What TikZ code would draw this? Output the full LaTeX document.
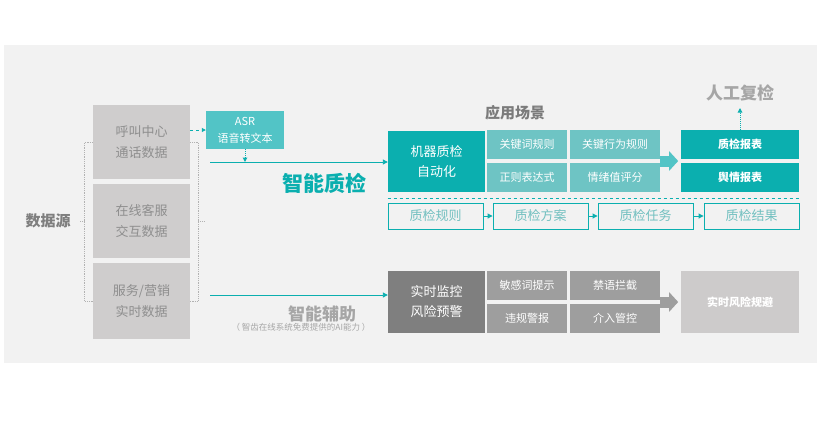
\documentclass[tikz,border=0pt]{standalone}
\usepackage{fontspec}
\setmainfont{Noto Sans CJK SC}
\usetikzlibrary{positioning, arrows.meta, calc}

\definecolor{bggray}{HTML}{F2F2F2}
\definecolor{qcteal}{HTML}{0BAFAF}
\definecolor{tealmid}{HTML}{6EC4C4}
\definecolor{asrteal}{HTML}{52C4C6}
\definecolor{tealtext}{HTML}{72C0C0}
\definecolor{srcgray}{HTML}{CFCDCD}
\definecolor{srctext}{HTML}{8E8E8E}
\definecolor{dkgray}{HTML}{7F7F7F}
\definecolor{mdgray}{HTML}{9E9E9E}
\definecolor{ltgray}{HTML}{CDCBCB}
\definecolor{titlegray}{HTML}{7B7B7B}
\definecolor{palegray}{HTML}{A6A6A6}

\begin{document}
\begin{tikzpicture}[
  x=1pt, y=-1pt,
  every node/.style={inner sep=0pt, align=center},
  srcbox/.style={fill=srcgray, text=srctext, minimum width=97pt, font=\fontsize{13}{21}\selectfont},
  bigbox/.style={minimum width=97pt, text=white, font=\fontsize{13}{20}\selectfont},
  smallbox/.style={minimum height=29pt, text=white, font=\fontsize{11}{13}\selectfont},
  reportbox/.style={fill=qcteal, minimum width=118pt, minimum height=29pt, text=white, font=\fontsize{11}{13}\selectfont\bfseries},
  procbox/.style={draw=qcteal, line width=0.9pt, minimum width=95pt, minimum height=26pt, text=tealtext, font=\fontsize{13}{15}\selectfont},
  flowarr/.style={draw=qcteal, line width=0.9pt, -{Triangle[length=5pt, width=5pt]}},
  dotarr/.style={draw=qcteal, densely dotted, line width=1pt, -{Triangle[length=4.5pt, width=4.5pt]}},
  fatarr/.style={line width=11pt, -{Triangle[length=9pt, width=19pt]}},
  bracket/.style={draw=gray!60, densely dotted, line width=0.8pt}
]

\fill[bggray] (4,45) rectangle (817,363);

% data sources
\node[srcbox, minimum height=74pt] (call) at (141.5,142) {呼叫中心\\通话数据};
\node[srcbox, minimum height=74pt] (chat) at (141.5,221) {在线客服\\交互数据};
\node[srcbox, minimum height=76pt] (sale) at (141.5,301) {服务/营销\\实时数据};

\draw[bracket] (call.west) -- ++(-8,0) |- (sale.west);
\draw[bracket] (chat.west) ++(-8,0) -- ++(-5,0) coordinate (srctick);
\draw[bracket] (call.east) -- ++(8,0) |- (sale.east);
\draw[bracket] (chat.east) ++(8,0) -- ++(7,0);
\node[left=9pt of srctick, text=dkgray, font=\fontsize{15}{17}\selectfont\bfseries] (src) {数据源};

\node[fill=asrteal, minimum width=78pt, minimum height=38pt, text=white, font=\fontsize{11}{17}\selectfont] (asr) at (245,130) {ASR\\语音转文本};

% upper branch
\node[bigbox, fill=qcteal, minimum height=61pt] (mqc) at (436.5,161.5) {机器质检\\自动化};
\node[smallbox, fill=tealmid, minimum width=80pt] (kw) at (527,144.5) {关键词规则};
\node[smallbox, fill=tealmid, minimum width=90pt] (act) at (615,144.5) {关键行为规则};
\node[smallbox, fill=tealmid, minimum width=80pt] (regex) at (527,177.5) {正则表达式};
\node[smallbox, fill=tealmid, minimum width=90pt] (emo) at (615,177.5) {情绪值评分};
\node[reportbox] (qcrep) at (740,144.5) {质检报表};
\node[reportbox] (oprep) at (740,177.5) {舆情报表};

\node[text=titlegray, font=\fontsize{15}{17}\selectfont\bfseries] (scene) at (515,113) {应用场景};
\node[text=palegray, font=\fontsize{17}{19}\selectfont\bfseries] (review) at (740,93) {人工复检};
\coordinate (revtip) at (740,108);

\coordinate (qline) at (210,162);
\draw[flowarr] (qline) -- (qline -| mqc.west);
\draw[draw=qcteal, dashed, line width=0.8pt, -{Triangle[length=4pt, width=4pt]}] (call.east |- asr.west) -- (asr.west);
\draw[dotarr] (asr.south) -- (asr.south |- qline);
\node[text=qcteal, font=\fontsize{21}{23}\selectfont\bfseries] (qctitle) at (324,183) {智能质检};

\coordinate (fa1) at ($(act.south east)!0.5!(emo.north east)$);
\draw[fatarr, asrteal] (fa1) -- ++(18,0);
\draw[dotarr] (qcrep.north) -- (revtip);

\node[procbox] (rule) at (435.5,216) {质检规则};
\node[procbox] (plan) at (540.5,216) {质检方案};
\node[procbox] (task) at (645.5,216) {质检任务};
\node[procbox] (result) at (751.5,216) {质检结果};
\draw[draw=qcteal, dashed, line width=0.9pt] ($(rule.north west)+(0,-4.5)$) -- ($(result.north east)+(0,-4.5)$);
\draw[flowarr] (rule) -- (plan);
\draw[flowarr] (plan) -- (task);
\draw[flowarr] (task) -- (result);

% lower branch
\node[bigbox, fill=dkgray, minimum height=62pt] (rt) at (436.5,302) {实时监控\\风险预警};
\node[smallbox, fill=mdgray, minimum width=80pt] (sens) at (527,285.5) {敏感词提示};
\node[smallbox, fill=mdgray, minimum width=90pt] (ban) at (615,285.5) {禁语拦截};
\node[smallbox, fill=mdgray, minimum width=80pt] (viol) at (527,318.5) {违规警报};
\node[smallbox, fill=mdgray, minimum width=90pt] (ctrl) at (615,318.5) {介入管控};
\node[fill=ltgray, minimum width=118pt, minimum height=62pt, text=white, font=\fontsize{11}{13}\selectfont\bfseries] (avoid) at (740,302) {实时风险规避};

\coordinate (aline) at (210,295);
\draw[flowarr] (aline) -- (aline -| rt.west);
\node[text=palegray, font=\fontsize{17}{19}\selectfont\bfseries] (aititle) at (322,314) {智能辅助};
\node[text=palegray, font=\fontsize{8.5}{10}\selectfont] (aisub) at (301,327.5) {（ 智齿在线系统免费提供的AI能力 ）};

\coordinate (fa2) at ($(ban.south east)!0.5!(ctrl.north east)$);
\draw[fatarr, mdgray] (fa2) -- ++(18,0);

\useasboundingbox (0,0) rectangle (838,421);
\end{tikzpicture}
\end{document}
